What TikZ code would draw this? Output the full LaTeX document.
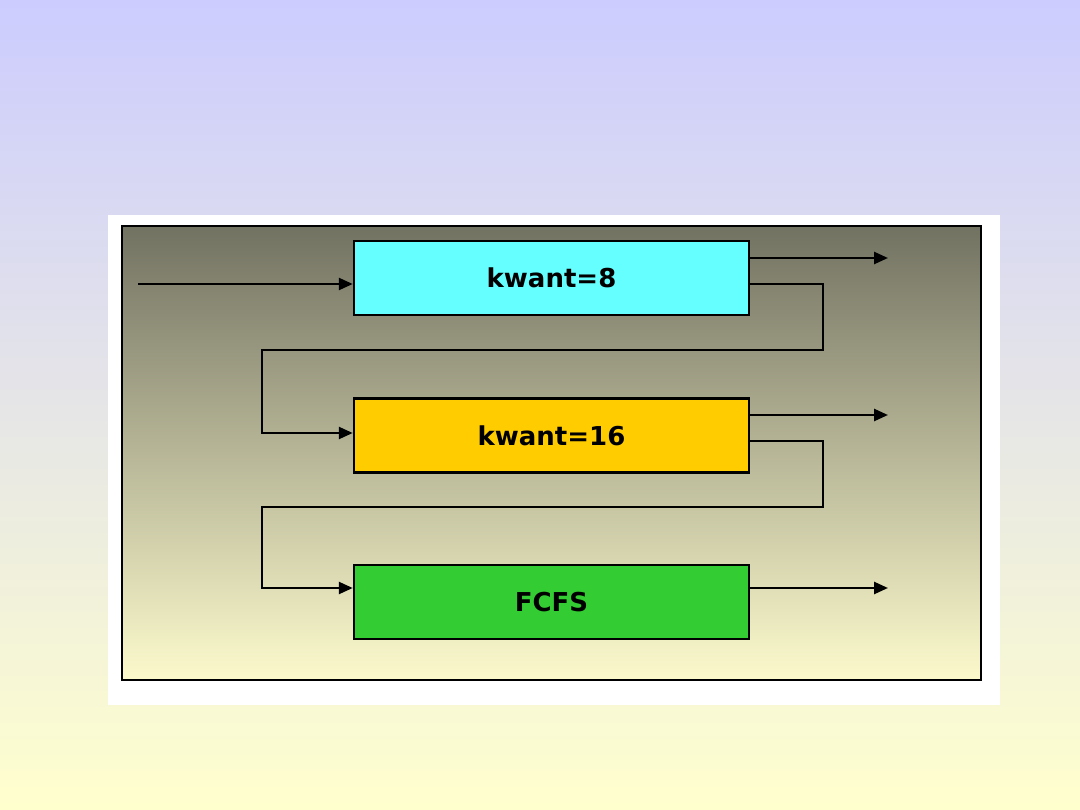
\documentclass[tikz,border=0pt]{standalone}
\usepackage{fontspec}
\setmainfont{DejaVu Sans}
\usetikzlibrary{arrows.meta}
\definecolor{bgtop}{RGB}{204,204,255}
\definecolor{bgbot}{RGB}{255,255,206}
\definecolor{pantop}{RGB}{114,114,98}
\definecolor{panmid}{RGB}{170,170,142}
\definecolor{panbot}{RGB}{252,250,204}
\definecolor{cyanbox}{RGB}{102,255,255}
\definecolor{yellowbox}{RGB}{255,204,0}
\definecolor{greenbox}{RGB}{51,204,51}
\tikzset{
  qbox/.style={draw=black, line width=2.5pt, minimum width=395pt, minimum height=74pt,
    inner sep=0pt, font=\fontsize{26}{30}\selectfont\bfseries},
  arr/.style={line width=2.5pt, -{Triangle[length=14pt,width=12pt]}}
}
\begin{document}
\begin{tikzpicture}[x=1pt,y=1pt]
\shade[top color=bgtop,bottom color=bgbot] (0,0) rectangle (1080,-810);
\useasboundingbox (0,0) rectangle (1080,-810);
\fill[white] (108,-215) rectangle (1000,-705);
\shade[top color=pantop, middle color=panmid, bottom color=panbot, draw=black, line width=2.5pt] (122,-226) rectangle (981,-680);

\node[qbox, fill=cyanbox] (b1) at (551.5,-278) {kwant=8};
\node[qbox, fill=yellowbox] (b2) at (551.5,-435.5) {kwant=16};
\node[qbox, fill=greenbox] (b3) at (551.5,-602) {FCFS};

\coordinate (in) at (138,-284);
\coordinate (o1) at (888,-258);
\coordinate (o2) at (888,-415);
\coordinate (o3) at (888,-588);

\draw[arr] (in) -- (b1.west |- in);
\draw[arr] (b1.east |- o1) -- (o1);
\draw[arr] (b2.east |- o2) -- (o2);
\draw[arr] (b3.east |- o3) -- (o3);

\draw[arr] (b1.east |- 0,-284) -- (823,-284) -- (823,-350) -- (262,-350) -- (262,-433) -- (b2.west |- 0,-433);
\draw[arr] (b2.east |- 0,-441) -- (823,-441) -- (823,-507) -- (262,-507) -- (262,-588) -- (b3.west |- 0,-588);
\end{tikzpicture}
\end{document}
